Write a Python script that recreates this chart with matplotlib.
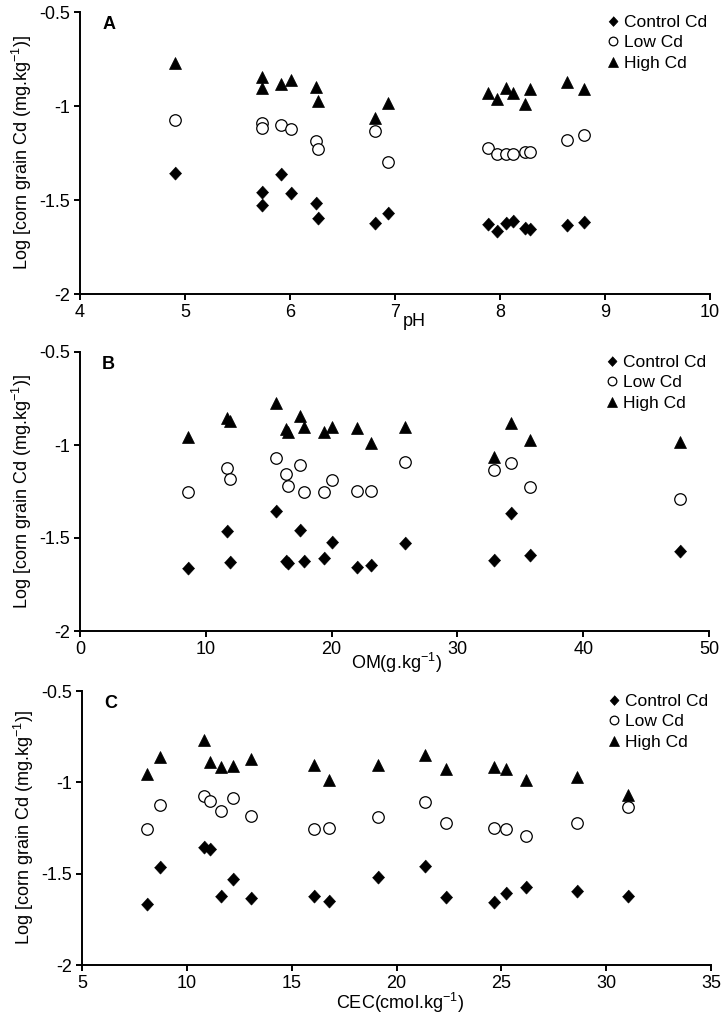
import matplotlib
matplotlib.use('Agg')
import matplotlib.pyplot as plt

plt.rcParams['font.family'] = ['Liberation Sans', 'DejaVu Sans']
plt.rcParams['mathtext.default'] = 'regular'
plt.rcParams['axes.unicode_minus'] = False

# ---------------- data ----------------
ph = [4.90, 5.73, 5.73, 5.91, 6.01, 6.25, 6.27, 6.81, 6.93, 7.89, 7.97, 8.06, 8.12, 8.24, 8.29, 8.64, 8.80]
ph_high = [-0.773, -0.847, -0.906, -0.883, -0.862, -0.901, -0.972, -1.062, -0.982, -0.933, -0.961, -0.906, -0.929, -0.989, -0.911, -0.871, -0.911]
ph_low = [-1.074, -1.092, -1.115, -1.101, -1.124, -1.184, -1.230, -1.131, -1.296, -1.225, -1.255, -1.255, -1.255, -1.246, -1.246, -1.181, -1.154]
ph_control = [-1.358, -1.456, -1.527, -1.363, -1.461, -1.518, -1.597, -1.621, -1.571, -1.628, -1.665, -1.621, -1.610, -1.651, -1.656, -1.633, -1.619]

om = [8.55, 11.68, 11.90, 15.55, 16.36, 16.54, 17.46, 17.83, 19.41, 20.04, 22.0, 23.17, 25.87, 32.87, 34.27, 35.74, 47.72]
om_high = [-0.955, -0.857, -0.869, -0.772, -0.916, -0.928, -0.844, -0.905, -0.928, -0.905, -0.910, -0.988, -0.901, -1.063, -0.883, -0.973, -0.982]
om_low = [-1.254, -1.125, -1.183, -1.072, -1.156, -1.220, -1.108, -1.254, -1.254, -1.188, -1.246, -1.246, -1.090, -1.134, -1.098, -1.227, -1.290]
om_control = [-1.663, -1.461, -1.631, -1.355, -1.624, -1.633, -1.457, -1.622, -1.606, -1.520, -1.654, -1.645, -1.528, -1.618, -1.364, -1.591, -1.570]

cec = [8.11, 8.71, 10.81, 11.10, 11.63, 12.20, 13.07, 16.05, 16.80, 19.10, 21.35, 22.36, 24.66, 25.23, 26.16, 28.59, 31.06]
cec_high = [-0.955, -0.864, -0.770, -0.888, -0.916, -0.910, -0.870, -0.906, -0.988, -0.906, -0.852, -0.925, -0.916, -0.927, -0.985, -0.970, -1.070]
cec_low = [-1.258, -1.125, -1.076, -1.103, -1.156, -1.088, -1.183, -1.258, -1.249, -1.192, -1.110, -1.225, -1.252, -1.258, -1.294, -1.225, -1.134]
cec_control = [-1.666, -1.466, -1.356, -1.365, -1.621, -1.530, -1.631, -1.622, -1.649, -1.520, -1.458, -1.630, -1.657, -1.608, -1.572, -1.595, -1.621]

series_names = ['Control Cd', 'Low Cd', 'High Cd']
y_ticks = [-2, -1.5, -1, -0.5]
y_tick_labels = ['-2', '-1.5', '-1', '-0.5']

panels = [
    dict(letter='A', x=ph, ys=[ph_control, ph_low, ph_high], xlim=(4, 10),
         xticks=[4, 5, 6, 7, 8, 9, 10], xlabel='pH', xlabel_xy=(0.53, -0.068)),
    dict(letter='B', x=om, ys=[om_control, om_low, om_high], xlim=(0, 50),
         xticks=[0, 10, 20, 30, 40, 50], xlabel='OM(g.kg$^{-1}$)', xlabel_xy=(0.503, -0.072)),
    dict(letter='C', x=cec, ys=[cec_control, cec_low, cec_high], xlim=(5, 35),
         xticks=[5, 10, 15, 20, 25, 30, 35], xlabel='CEC(cmol.kg$^{-1}$)', xlabel_xy=(0.505, -0.095)),
]

W, H = 726, 1022
fig = plt.figure(figsize=(W / 100, H / 100), dpi=100)

# axes pixel boxes (left, top, right, bottom)
boxes = [(80, 12, 710, 294), (80, 352, 709, 631), (82, 691, 711, 965)]

diamond = [(0, 1), (0.92, 0), (0, -1), (-0.92, 0)]
styles = [
    dict(marker=diamond, ms=9.4, mfc='black', mec='black', mew=0.5),
    dict(marker='o', ms=8.3, mfc='white', mec='black', mew=0.9),
    dict(marker='^', ms=8.8, mfc='black', mec='black', mew=0.5),
]

for p, (l, t, r, b) in zip(panels, boxes):
    ax = fig.add_axes([l / W, 1 - b / H, (r - l) / W, (b - t) / H])
    for ys, st, name in zip(p['ys'], styles, series_names):
        ax.plot(p['x'], ys, linestyle='none', label=name, **st)
    ax.set_xlim(*p['xlim'])
    ax.set_ylim(-2, -0.5)
    ax.set_xticks(p['xticks'])
    ax.set_xticklabels([str(v) for v in p['xticks']])
    ax.set_yticks(y_ticks)
    ax.set_yticklabels(y_tick_labels)
    for s in ['top', 'right']:
        ax.spines[s].set_visible(False)
    for s in ['left', 'bottom']:
        ax.spines[s].set_linewidth(1.4)
    ax.tick_params(direction='out', length=4, width=1.4, labelsize=13, pad=3)
    ax.set_ylabel('Log [corn grain Cd (mg.kg$^{-1}$)]', fontsize=13, labelpad=4)
    ax.set_xlabel(p['xlabel'], fontsize=13)
    ax.xaxis.set_label_coords(*p['xlabel_xy'])
    ax.text(0.035, 0.985, p['letter'], transform=ax.transAxes, ha='left', va='top',
            fontsize=13, fontweight='bold')
    ax.legend(loc='upper right', bbox_to_anchor=(0.995, 0.99), frameon=False,
              fontsize=12.5, markerscale=0.75, handlelength=0.6, handletextpad=0.3,
              labelspacing=0.3, borderaxespad=0, borderpad=0)

fig.savefig('out.png', dpi=100)
